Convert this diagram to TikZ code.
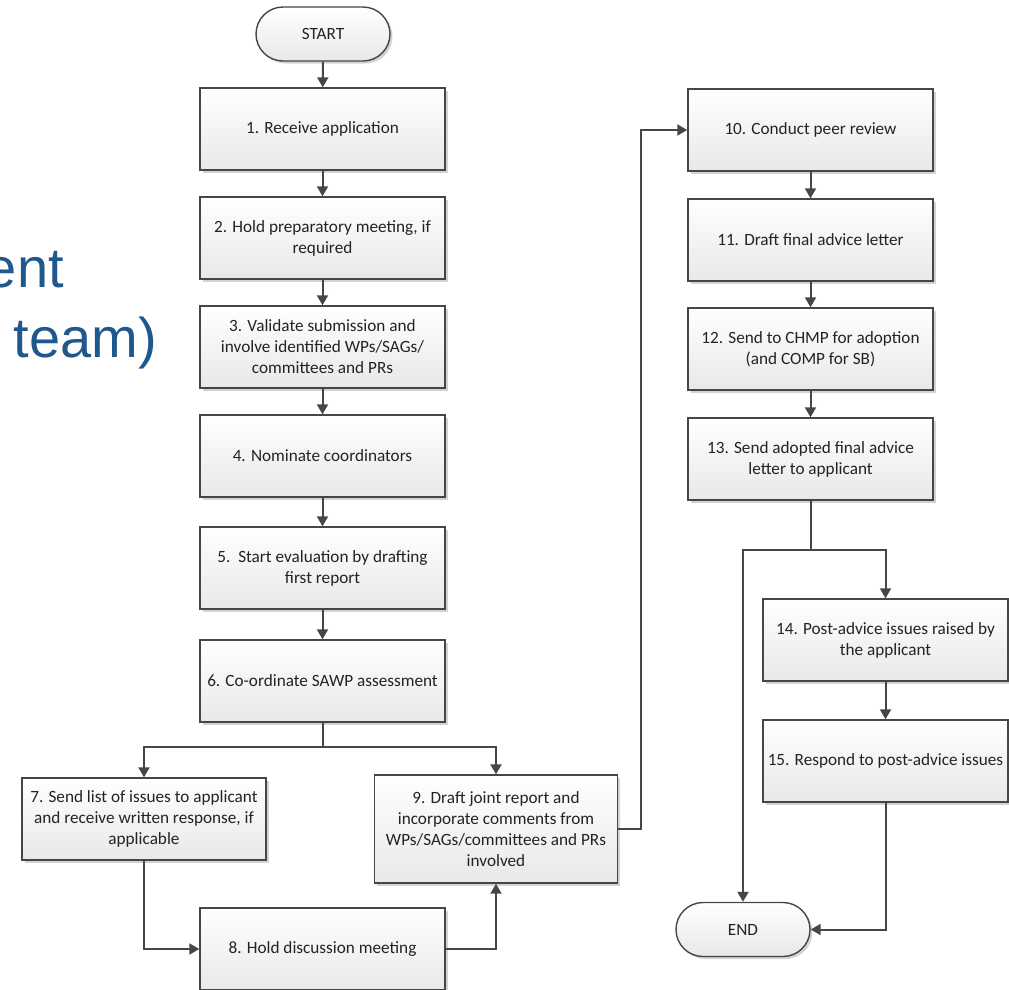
\documentclass[tikz,border=0pt]{standalone}
\usepackage{fontspec}
\setmainfont{Carlito}
\newfontfamily\headfont{Liberation Sans}
\usetikzlibrary{arrows.meta,shadows,shapes.misc}
\definecolor{linegrey}{RGB}{70,70,70}
\definecolor{boxgrey}{RGB}{232,232,232}
\definecolor{textgrey}{RGB}{35,35,35}
\definecolor{headblue}{RGB}{31,88,140}

\begin{document}
\begin{tikzpicture}[x=1pt,y=-1pt,
	stepbox/.style={draw=linegrey,line width=1.4pt,top color=white,bottom color=boxgrey,
		minimum width=245pt,minimum height=82pt,align=center,text=textgrey,inner sep=2pt,
		font=\fontsize{17.2}{21}\selectfont,
		drop shadow={shadow xshift=2.5pt,shadow yshift=-2.5pt,opacity=0.35}},
	termbox/.style={stepbox,rounded rectangle,minimum width=138pt,minimum height=54pt},
	conn/.style={draw=linegrey,line width=2pt,-{Triangle[length=10pt,width=11pt]}},
	link/.style={draw=linegrey,line width=2pt}]
				\useasboundingbox (0,0) rectangle (1009,989);
				% left column
				\node[termbox] (start) at (323,34) {START};
				\node[stepbox] (b1) at (322.5,129) {1. Receive application};
				\node[stepbox] (b2) at (322.5,238) {2. Hold preparatory meeting, if\\required};
				\node[stepbox] (b3) at (322.5,347) {3. Validate submission and\\involve identified WPs/SAGs/\\committees and PRs};
				\node[stepbox] (b4) at (322.5,456) {4. Nominate coordinators};
				\node[stepbox] (b5) at (322.5,568) {5.\ \ Start evaluation by drafting\\first report};
				\node[stepbox] (b6) at (322.5,681) {6. Co-ordinate SAWP assessment};
				\node[stepbox,minimum width=244pt] (b7) at (144,819) {7. Send list of issues to applicant\\and receive written response, if\\applicable};
				\node[stepbox] (b8) at (322.5,949) {8. Hold discussion meeting};
				\node[stepbox,minimum width=243pt,minimum height=108pt] (b9) at (496,829) {9. Draft joint report and\\incorporate comments from\\WPs/SAGs/committees and PRs\\involved};
				% right column
				\node[stepbox] (b10) at (810.5,130) {10. Conduct peer review};
				\node[stepbox] (b11) at (810.5,240) {11. Draft final advice letter};
				\node[stepbox] (b12) at (810.5,349) {12. Send to CHMP for adoption\\(and COMP for SB)};
				\node[stepbox] (b13) at (810.5,459) {13. Send adopted final advice\\letter to applicant};
				\node[stepbox] (b14) at (885.5,640) {14. Post-advice issues raised by\\the applicant};
				\node[stepbox] (b15) at (885.5,761) {15. Respond to post-advice issues};
				\node[termbox] (end) at (743,929.5) {END};
				% cut-off heading on the left
				\node[anchor=base east,inner sep=0pt,text=headblue,font=\headfont\fontsize{56}{60}\selectfont] (head1) at (64,287) {ent};
				\node[anchor=base east,inner sep=0pt,text=headblue,font=\headfont\fontsize{56}{60}\selectfont] (head2) at (157,357) {team)};
				% connectors
				\coordinate (split6) at (322.5,747);
				\coordinate (turn9) at (641,829);
				\coordinate (split13) at (810.5,550);
				\draw[conn] (start) -- (b1);
				\draw[conn] (b1) -- (b2);
				\draw[conn] (b2) -- (b3);
				\draw[conn] (b3) -- (b4);
				\draw[conn] (b4) -- (b5);
				\draw[conn] (b5) -- (b6);
				\draw[link] (b6) -- (split6);
				\draw[conn] (split6) -| (b7);
				\draw[conn] (split6) -| (b9);
				\draw[conn] (b7) |- (b8);
				\draw[conn] (b8) -| (b9);
				\draw[conn] (b9) -- (turn9) |- (b10);
				\draw[conn] (b10) -- (b11);
				\draw[conn] (b11) -- (b12);
				\draw[conn] (b12) -- (b13);
				\draw[link] (b13) -- (split13);
				\draw[conn] (split13) -| (end);
				\draw[conn] (split13) -| (b14);
				\draw[conn] (b14) -- (b15);
				\draw[conn] (b15) |- (end);
			\end{tikzpicture}
\end{document}
